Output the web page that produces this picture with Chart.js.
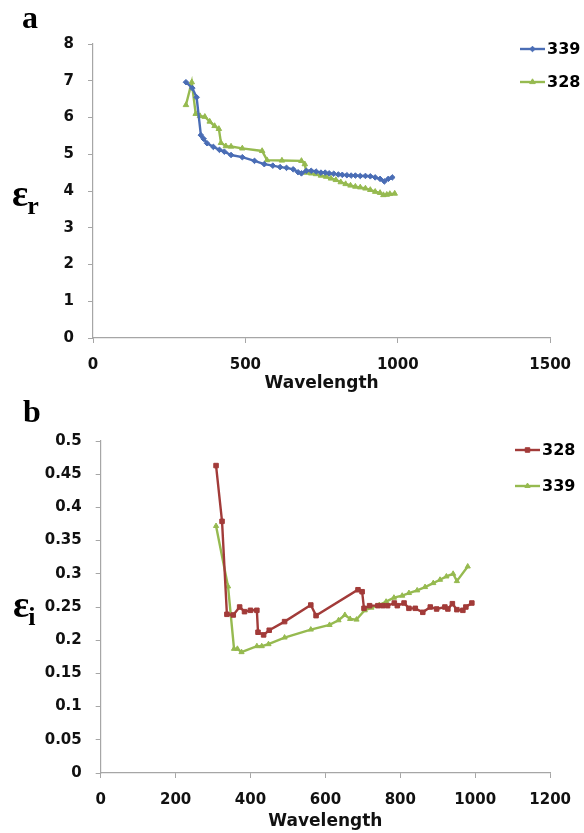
<!DOCTYPE html>
<html>
<head>
<meta charset="utf-8">
<script src="https://cdn.jsdelivr.net/npm/chart.js@4.4.0/dist/chart.umd.min.js"></script>
<style>
body { margin: 0; background: #fff; width: 584px; height: 833px; overflow: hidden; position: relative; }
canvas { position: absolute; left: 0; }
#chartA { top: 0; }
#chartB { top: 398px; }
</style>
</head>
<body>
<canvas id="chartA" width="584" height="398"></canvas>
<canvas id="chartB" width="584" height="435"></canvas>
<script>
// panel a : real part
const wlA339 = [305, 326, 340, 354, 363, 374, 395, 415, 431, 453, 490, 530, 562, 590, 614, 635, 657, 673, 684, 700, 716, 732, 748, 762, 775, 790, 805, 818, 833, 847, 861, 877, 894, 910, 926, 942, 956, 969, 982];
const erA339 = [6.96, 6.8, 6.55, 5.52, 5.42, 5.3, 5.2, 5.12, 5.07, 4.98, 4.92, 4.82, 4.73, 4.69, 4.65, 4.63, 4.59, 4.51, 4.48, 4.55, 4.55, 4.53, 4.5, 4.5, 4.48, 4.47, 4.45, 4.44, 4.43, 4.42, 4.42, 4.41, 4.41, 4.4, 4.37, 4.33, 4.26, 4.33, 4.37];
const wlA328 = [305, 324, 337, 351, 367, 383, 399, 413, 420, 436, 453, 490, 555, 571, 620, 684, 695, 700, 716, 732, 748, 765, 781, 797, 813, 829, 845, 861, 877, 894, 910, 926, 942, 953, 964, 974, 990];
const erA328 = [6.34, 6.96, 6.1, 6.04, 6.02, 5.89, 5.77, 5.69, 5.31, 5.22, 5.21, 5.16, 5.09, 4.84, 4.83, 4.82, 4.73, 4.5, 4.48, 4.46, 4.42, 4.39, 4.34, 4.3, 4.24, 4.19, 4.15, 4.12, 4.1, 4.07, 4.03, 3.98, 3.95, 3.89, 3.9, 3.92, 3.93];

// panel b : imaginary part
const wlB328 = [308, 324, 337, 354, 371, 384, 400, 417, 420, 435, 450, 491, 561, 575, 687, 698, 703, 718, 740, 753, 766, 784, 792, 810, 823, 840, 860, 880, 897, 919, 927, 939, 951, 967, 975, 991];
const eiB328 = [0.463, 0.379, 0.239, 0.238, 0.25, 0.243, 0.245, 0.245, 0.212, 0.208, 0.215, 0.228, 0.253, 0.237, 0.276, 0.273, 0.248, 0.252, 0.252, 0.252, 0.252, 0.256, 0.252, 0.256, 0.248, 0.248, 0.242, 0.25, 0.247, 0.25, 0.247, 0.255, 0.246, 0.245, 0.25, 0.256];
const wlB339 = [308, 340, 356, 365, 376, 417, 430, 448, 491, 561, 611, 635, 652, 666, 683, 705, 723, 744, 762, 783, 805, 823, 845, 866, 888, 906, 923, 941, 951, 980];
const eiB339 = [0.372, 0.281, 0.187, 0.187, 0.182, 0.191, 0.191, 0.194, 0.204, 0.216, 0.223, 0.23, 0.238, 0.232, 0.231, 0.245, 0.249, 0.253, 0.258, 0.264, 0.267, 0.271, 0.275, 0.28, 0.286, 0.291, 0.296, 0.3, 0.289, 0.311];

const xTicksA = [0, 500, 1000, 1500];
const yTicksA = [0, 1, 2, 3, 4, 5, 6, 7, 8];
const xTicksB = [0, 200, 400, 600, 800, 1000, 1200];
const yTicksB = [0, 0.05, 0.1, 0.15, 0.2, 0.25, 0.3, 0.35, 0.4, 0.45, 0.5];

const tickFont = { family: '"DejaVu Sans", Verdana, sans-serif', size: 15, weight: 'bold' };
const axisGrey = '#a6a6a6';
const blue = '#4A6DB5';
const green = '#96BA50';
const red = '#A23B39';

function makeScale(tickList, horizontal, size, padding) {
    return {
        type: 'linear',
        min: tickList[0],
        max: tickList[tickList.length - 1],
        afterBuildTicks: s => { s.ticks = tickList.map(v => ({ value: v })); },
        afterFit: s => { if (horizontal) s.height = size; else s.width = size; },
        grid: { drawOnChartArea: false, drawTicks: true, tickLength: 5, color: axisGrey },
        border: { color: axisGrey, width: 1.2 },
        ticks: {
            font: tickFont, color: '#111', padding: padding,
            maxRotation: 0, autoSkip: false,
            callback: v => String(+v.toFixed(2))
        }
    };
}

function series(label, xs, ys, color, style, r) {
    return {
        label: label,
        data: xs.map((x, i) => ({ x: x, y: ys[i] })),
        borderColor: color,
        backgroundColor: color,
        borderWidth: 2.4,
        pointStyle: style,
        pointRadius: r,
        pointBorderWidth: 1,
        tension: 0,
        fill: false
    };
}

// letter, epsilon symbol and the excel-like legend
const panelDecor = {
    id: 'panelDecor',
    afterDraw(chart, args, opts) {
        const ctx = chart.ctx;
        ctx.save();
        ctx.fillStyle = '#000';
        ctx.textAlign = 'left';
        ctx.textBaseline = 'alphabetic';
        ctx.font = 'bold 32px "Liberation Serif", "Times New Roman", serif';
        ctx.fillText(opts.letter, opts.letterX, opts.letterY);

        ctx.font = 'bold 38px "Liberation Serif", "Times New Roman", serif';
        ctx.fillText('\u03B5', opts.symX, opts.symY);
        const w = ctx.measureText('\u03B5').width;
        ctx.font = 'bold 26px "Liberation Serif", "Times New Roman", serif';
        ctx.fillText(opts.sub, opts.symX + w - 1, opts.symY + 8);

        chart.data.datasets.forEach((ds, i) => {
            const y = opts.legY + i * opts.legGap;
            ctx.strokeStyle = ds.borderColor;
            ctx.fillStyle = ds.borderColor;
            ctx.lineWidth = 2.4;
            ctx.beginPath();
            ctx.moveTo(opts.legX, y);
            ctx.lineTo(opts.legX + 25, y);
            ctx.stroke();
            ctx.lineWidth = 1;
            Chart.helpers.drawPoint(ctx, { pointStyle: ds.pointStyle, radius: ds.pointRadius, rotation: 0, borderWidth: 1 }, opts.legX + 12.5, y);
            ctx.fillStyle = '#000';
            ctx.font = 'bold 16px "DejaVu Sans", Verdana, sans-serif';
            ctx.textBaseline = 'middle';
            ctx.fillText(ds.label, opts.legX + 27, y + 1);
            ctx.textBaseline = 'alphabetic';
        });
        ctx.restore();
    }
};

function xTitle(bottomPad) {
    return {
        display: true,
        text: 'Wavelength',
        color: '#111',
        font: { family: '"DejaVu Sans", Verdana, sans-serif', size: 17, weight: 'bold' },
        padding: { top: 0, bottom: bottomPad }
    };
}

const scalesA = {
    x: Object.assign(makeScale(xTicksA, true, 60, 13), { title: xTitle(4) }),
    y: makeScale(yTicksA, false, 93, 14)
};

new Chart(document.getElementById('chartA'), {
    type: 'line',
    data: {
        datasets: [
            series('339', wlA339, erA339, blue, 'rectRot', 2.8),
            series('328', wlA328, erA328, green, 'triangle', 3.2)
        ]
    },
    options: {
        responsive: false,
        animation: false,
        layout: { padding: { top: 44, right: 26, bottom: 0, left: 0 } },
        plugins: {
            legend: { display: false },
            tooltip: { enabled: false },
            panelDecor: { letter: 'a', letterX: 22, letterY: 28, sub: 'r', symX: 12, symY: 206, legX: 520, legY: 49, legGap: 33 }
        },
        scales: scalesA
    },
    plugins: [panelDecor]
});

const scalesB = {
    x: Object.assign(makeScale(xTicksB, true, 60, 13), { title: xTitle(1) }),
    y: makeScale(yTicksB, false, 100.7, 14)
};

new Chart(document.getElementById('chartB'), {
    type: 'line',
    data: {
        datasets: [
            series('328', wlB328, eiB328, red, 'rect', 3.2),
            series('339', wlB339, eiB339, green, 'triangle', 3)
        ]
    },
    options: {
        responsive: false,
        animation: false,
        layout: { padding: { top: 43, right: 25, bottom: 0, left: 0 } },
        plugins: {
            legend: { display: false },
            tooltip: { enabled: false },
            panelDecor: { letter: 'b', letterX: 23, letterY: 24, sub: 'i', symX: 13, symY: 219, legX: 515, legY: 52, legGap: 36 }
        },
        scales: scalesB
    },
    plugins: [panelDecor]
});
</script>
</body>
</html>
